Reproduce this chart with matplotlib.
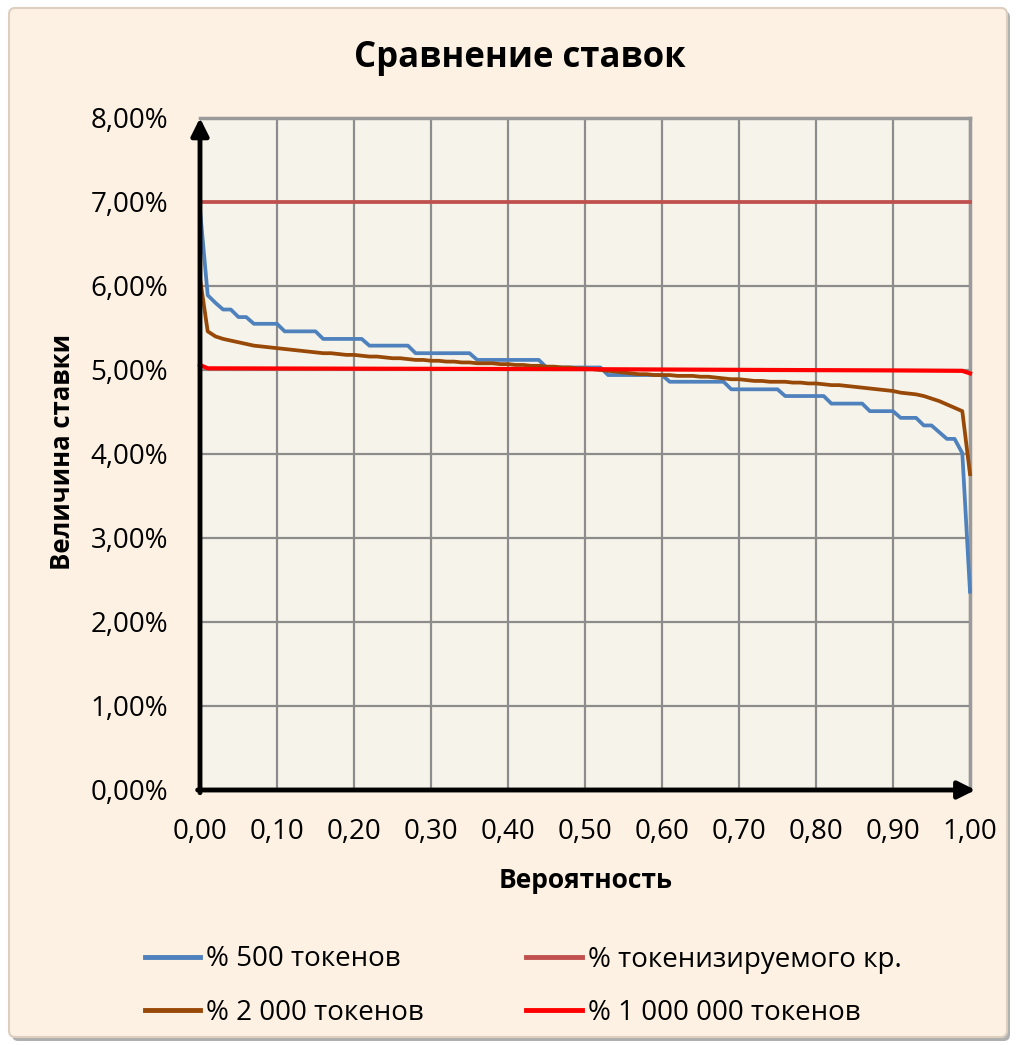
import matplotlib
matplotlib.use("Agg")
import matplotlib.pyplot as plt
from matplotlib.patches import FancyBboxPatch
from matplotlib.ticker import FuncFormatter, MultipleLocator

plt.rcParams['font.family'] = ['Open Sans', 'DejaVu Sans']

# ---- data ----
prob = [round(i / 100, 2) for i in range(101)]

rate_500 = [6.91, 5.89, 5.80, 5.72, 5.72, 5.63, 5.63, 5.55, 5.55, 5.55,
            5.55, 5.46, 5.46, 5.46, 5.46, 5.46, 5.37, 5.37, 5.37, 5.37,
            5.37, 5.37, 5.29, 5.29, 5.29, 5.29, 5.29, 5.29, 5.20, 5.20,
            5.20, 5.20, 5.20, 5.20, 5.20, 5.20, 5.12, 5.12, 5.12, 5.12,
            5.12, 5.12, 5.12, 5.12, 5.12, 5.03, 5.03, 5.03, 5.03, 5.03,
            5.03, 5.03, 5.03, 4.94, 4.94, 4.94, 4.94, 4.94, 4.94, 4.94,
            4.94, 4.86, 4.86, 4.86, 4.86, 4.86, 4.86, 4.86, 4.86, 4.77,
            4.77, 4.77, 4.77, 4.77, 4.77, 4.77, 4.69, 4.69, 4.69, 4.69,
            4.69, 4.69, 4.60, 4.60, 4.60, 4.60, 4.60, 4.51, 4.51, 4.51,
            4.51, 4.43, 4.43, 4.43, 4.34, 4.34, 4.26, 4.18, 4.18, 4.01,
            2.36]

rate_2000 = [6.09, 5.46, 5.40, 5.37, 5.35, 5.33, 5.31, 5.29, 5.28, 5.27,
             5.26, 5.25, 5.24, 5.23, 5.22, 5.21, 5.20, 5.20, 5.19, 5.18,
             5.18, 5.17, 5.16, 5.16, 5.15, 5.14, 5.14, 5.13, 5.12, 5.12,
             5.11, 5.11, 5.10, 5.10, 5.09, 5.09, 5.08, 5.08, 5.08, 5.07,
             5.07, 5.06, 5.06, 5.05, 5.05, 5.04, 5.04, 5.03, 5.03, 5.02,
             5.02, 5.01, 5.00, 4.99, 4.98, 4.97, 4.96, 4.95, 4.95, 4.94,
             4.94, 4.94, 4.93, 4.93, 4.93, 4.92, 4.92, 4.91, 4.90, 4.89,
             4.89, 4.88, 4.87, 4.87, 4.86, 4.86, 4.86, 4.85, 4.85, 4.84,
             4.84, 4.83, 4.82, 4.82, 4.81, 4.80, 4.79, 4.78, 4.77, 4.76,
             4.75, 4.73, 4.72, 4.71, 4.69, 4.66, 4.63, 4.59, 4.55, 4.51,
             3.76]

prob_mln = [0.00, 0.01, 0.25, 0.50, 0.75, 0.90, 0.99, 1.00]
rate_mln = [5.06, 5.02, 5.015, 5.01, 5.00, 4.995, 4.99, 4.96]

prob_tok = [0.00, 1.00]
rate_tok = [7.00, 7.00]

labels = ['% 500 токенов', '% 2 000 токенов',
          '% токенизируемого кр.', '% 1 000 000 токенов']
colors = ['#4F81BD', '#984807', '#C0504D', '#FF0000']

title = 'Сравнение ставок'
xlabel = 'Вероятность'
ylabel = 'Величина ставки'

# ---- figure ----
W, H = 1017, 1045
fig = plt.figure(figsize=(W / 100, H / 100), dpi=100)
fig.patch.set_facecolor('white')

shadow = FancyBboxPatch((12 / W, 4 / H), 998 / W, 1030 / H,
                        boxstyle='round,pad=0,rounding_size=0.006',
                        transform=fig.transFigure, facecolor='#B0B0B0',
                        edgecolor='none', zorder=-3)
frame = FancyBboxPatch((9 / W, 8 / H), 998 / W, 1029 / H,
                       boxstyle='round,pad=0,rounding_size=0.006',
                       transform=fig.transFigure, facecolor='#FDF1E3',
                       edgecolor='#DCCFC0', linewidth=1.5, zorder=-2)
fig.patches.extend([shadow, frame])

L, R, T, B = 200, 970, 118, 790
ax = fig.add_axes([L / W, 1 - B / H, (R - L) / W, (B - T) / H])
ax.set_facecolor('#F6F4EA')

ax.set_xlim(0, 1)
ax.set_ylim(0, 8)
ax.xaxis.set_major_locator(MultipleLocator(0.1))
ax.yaxis.set_major_locator(MultipleLocator(1))
ax.xaxis.set_major_formatter(FuncFormatter(lambda v, p: f'{v:.2f}'.replace('.', ',')))
ax.yaxis.set_major_formatter(FuncFormatter(lambda v, p: f'{v:.2f}%'.replace('.', ',')))
ax.grid(True, color='#8C8C8C', linewidth=1.6, zorder=1)
ax.tick_params(axis='both', length=0, labelsize=20, colors='black')
ax.tick_params(axis='x', pad=20)
ax.tick_params(axis='y', pad=23)

for s in ['top', 'right']:
    ax.spines[s].set_color('#9A9A9A')
    ax.spines[s].set_linewidth(2.5)
for s in ['left', 'bottom']:
    ax.spines[s].set_visible(False)

lw = 2.7
h1, = ax.plot(prob, rate_500, color=colors[0], lw=lw, zorder=4, solid_joinstyle='round')
h2, = ax.plot(prob, rate_2000, color=colors[1], lw=lw, zorder=4, solid_joinstyle='round')
h3, = ax.plot(prob_tok, rate_tok, color=colors[2], lw=lw, zorder=3)
h4, = ax.plot(prob_mln, rate_mln, color=colors[3], lw=3.0, zorder=5)
for h in (h1, h2, h3, h4):
    h.set_clip_on(False)

ax.annotate('', xy=(0, 1.0), xytext=(0, -0.004), xycoords='axes fraction',
            arrowprops=dict(arrowstyle='-|>', lw=3.5, color='black',
                            mutation_scale=26, shrinkA=0, shrinkB=0), zorder=6,
            annotation_clip=False)
ax.annotate('', xy=(1.007, 0), xytext=(-0.003, 0), xycoords='axes fraction',
            arrowprops=dict(arrowstyle='-|>', lw=3.5, color='black',
                            mutation_scale=26, shrinkA=0, shrinkB=0), zorder=6,
            annotation_clip=False)

fig.text(520 / W, 1 - 58 / H, title, ha='center', va='center',
         fontsize=25, fontweight='bold')
fig.text(586 / W, 1 - 880 / H, xlabel, ha='center', va='center',
         fontsize=19, fontweight='bold')
fig.text(62 / W, 1 - 452 / H, ylabel, ha='center', va='center',
         fontsize=18.5, fontweight='bold', rotation=90)

leg = fig.legend([h1, h2, h3, h4], labels, ncol=2, frameon=False,
                 loc='center', bbox_to_anchor=(523 / W, 1 - 986 / H),
                 fontsize=20, handlelength=2.0, handletextpad=0.2,
                 columnspacing=3.7, labelspacing=0.9)
for line in leg.get_lines():
    line.set_linewidth(3.5)

fig.savefig('out.png', dpi=100, facecolor=fig.get_facecolor())
